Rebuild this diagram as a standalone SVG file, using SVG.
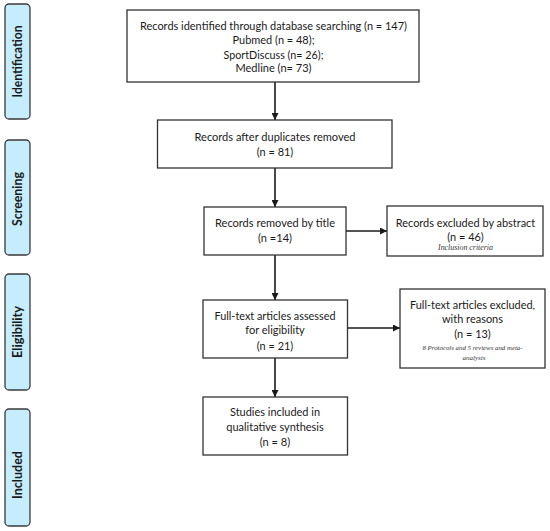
<svg xmlns="http://www.w3.org/2000/svg" width="550" height="531" viewBox="0 0 550 531">
<defs>
<style>
.bg{fill:#ffffff}
.box{fill:#ffffff;stroke:#333333;stroke-width:1.3}
.side{fill:#c6edfb;stroke:#3a3a3a;stroke-width:1.3}
.t{font-family:Lato,"Liberation Sans",sans-serif;font-size:12px;fill:#1a1a1a;text-anchor:middle}
.s{font-family:Lato,"Liberation Sans",sans-serif;font-size:12.5px;font-weight:bold;fill:#1a1a1a;text-anchor:middle}
.i{font-family:"Liberation Serif",serif;font-style:italic;font-size:8px;fill:#333333;text-anchor:middle}
.i2{font-family:"Liberation Serif",serif;font-style:italic;font-size:7px;fill:#333333;text-anchor:middle}
.c{stroke:#1a1a1a;stroke-width:1.6;fill:none;marker-end:url(#ah)}
</style>
<marker id="ah" viewBox="0 0 10 10" refX="10" refY="5" markerUnits="userSpaceOnUse" markerWidth="7" markerHeight="7" orient="auto">
<path d="M0,0 L10,5 L0,10 z" fill="#1a1a1a"/>
</marker>
</defs>
<rect class="bg" x="0" y="0" width="550" height="531"/>

<g id="side-identification">
<rect class="side" x="5" y="4" width="25" height="115" rx="4"/>
<text class="s" transform="translate(22,61.5) rotate(-90)" textLength="72" lengthAdjust="spacingAndGlyphs">Identification</text>
</g>
<g id="side-screening">
<rect class="side" x="5" y="140" width="25" height="115" rx="4"/>
<text class="s" transform="translate(22,199) rotate(-90)" textLength="54" lengthAdjust="spacingAndGlyphs">Screening</text>
</g>
<g id="side-eligibility">
<rect class="side" x="5" y="274" width="25" height="116" rx="4"/>
<text class="s" transform="translate(22,332) rotate(-90)" textLength="52" lengthAdjust="spacingAndGlyphs">Eligibility</text>
</g>
<g id="side-included">
<rect class="side" x="5" y="409" width="25" height="117" rx="4"/>
<text class="s" transform="translate(22,475) rotate(-90)" textLength="48" lengthAdjust="spacingAndGlyphs">Included</text>
</g>

<g id="connectors">
<line class="c" x1="275" y1="82" x2="275" y2="120"/>
<line class="c" x1="275" y1="168" x2="275" y2="207"/>
<line class="c" x1="275" y1="255" x2="275" y2="300"/>
<line class="c" x1="275" y1="358" x2="275" y2="397"/>
<line class="c" x1="346" y1="231" x2="387" y2="231"/>
<line class="c" x1="347.5" y1="328" x2="400" y2="328"/>
</g>

<g id="identified">
<rect class="box" x="127" y="10" width="292" height="72"/>
<text class="t" x="273.5" y="30" textLength="267" lengthAdjust="spacingAndGlyphs">Records identified through database searching (n = 147)</text>
<text class="t" x="273.5" y="44" textLength="82" lengthAdjust="spacingAndGlyphs">Pubmed (n = 48);</text>
<text class="t" x="273.5" y="58.5" textLength="100" lengthAdjust="spacingAndGlyphs">SportDiscuss (n= 26);</text>
<text class="t" x="273.5" y="72" textLength="76" lengthAdjust="spacingAndGlyphs">Medline (n= 73)</text>
</g>

<g id="duplicates">
<rect class="box" x="157.5" y="120" width="234.5" height="48"/>
<text class="t" x="275" y="141" textLength="161" lengthAdjust="spacingAndGlyphs">Records after duplicates removed</text>
<text class="t" x="275" y="155.5" textLength="36.5" lengthAdjust="spacingAndGlyphs">(n = 81)</text>
</g>

<g id="title">
<rect class="box" x="204" y="207" width="142" height="48"/>
<text class="t" x="275" y="227" textLength="120" lengthAdjust="spacingAndGlyphs">Records removed by title</text>
<text class="t" x="275" y="242" textLength="34" lengthAdjust="spacingAndGlyphs">(n =14)</text>
</g>

<g id="abstract">
<rect class="box" x="387" y="206" width="156" height="50"/>
<text class="t" x="465.5" y="227" textLength="139.5" lengthAdjust="spacingAndGlyphs">Records excluded by abstract</text>
<text class="t" x="465.5" y="240.5" textLength="36.5" lengthAdjust="spacingAndGlyphs">(n = 46)</text>
<text class="i" x="465.5" y="250" textLength="55" lengthAdjust="spacingAndGlyphs">Inclusion criteria</text>
</g>

<g id="fulltext">
<rect class="box" x="203" y="300" width="144.5" height="58"/>
<text class="t" x="275" y="320" textLength="121" lengthAdjust="spacingAndGlyphs">Full-text articles assessed</text>
<text class="t" x="275" y="334" textLength="59.5" lengthAdjust="spacingAndGlyphs">for eligibility</text>
<text class="t" x="275" y="349.5" textLength="36.5" lengthAdjust="spacingAndGlyphs">(n = 21)</text>
</g>

<g id="excluded">
<rect class="box" x="400" y="289" width="145" height="79"/>
<text class="t" x="472.5" y="309" textLength="125" lengthAdjust="spacingAndGlyphs">Full-text articles excluded,</text>
<text class="t" x="472.5" y="323" textLength="61" lengthAdjust="spacingAndGlyphs">with reasons</text>
<text class="t" x="472.5" y="338" textLength="36.5" lengthAdjust="spacingAndGlyphs">(n = 13)</text>
<text class="i2" x="472.5" y="350" textLength="100" lengthAdjust="spacingAndGlyphs">8 Protocols and 5 reviews and meta-</text>
<text class="i2" x="474" y="359.5" textLength="23" lengthAdjust="spacingAndGlyphs">analysis</text>
</g>

<g id="included">
<rect class="box" x="203" y="397" width="144.5" height="58"/>
<text class="t" x="275" y="416" textLength="90" lengthAdjust="spacingAndGlyphs">Studies included in</text>
<text class="t" x="275" y="431" textLength="97.5" lengthAdjust="spacingAndGlyphs">qualitative synthesis</text>
<text class="t" x="275" y="446" textLength="30.5" lengthAdjust="spacingAndGlyphs">(n = 8)</text>
</g>
</svg>
